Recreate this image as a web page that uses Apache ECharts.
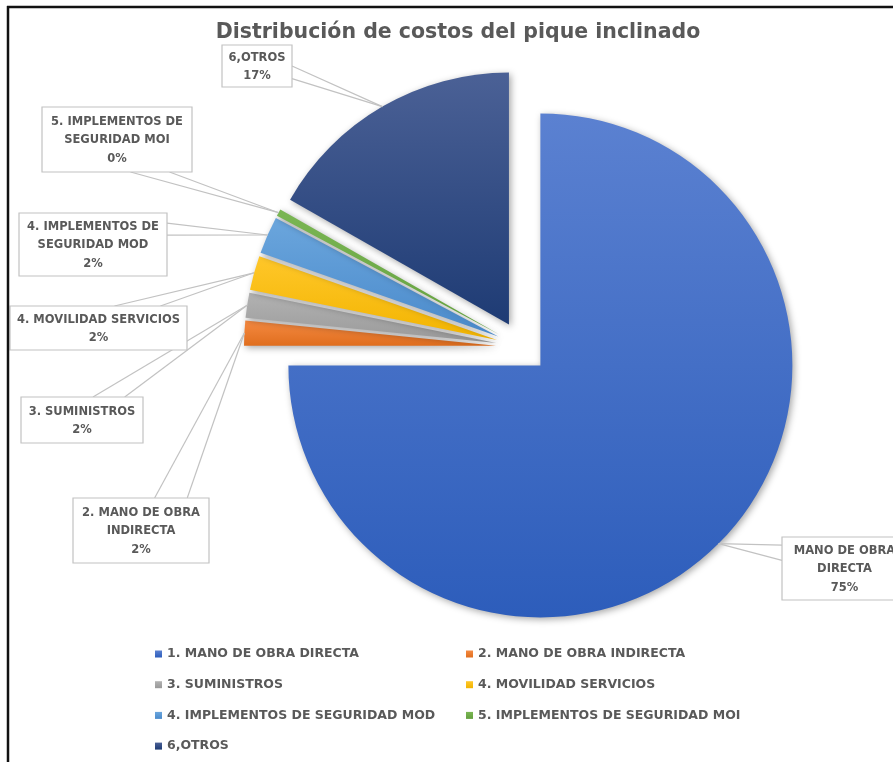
<!DOCTYPE html>
<html>
<head>
<meta charset="utf-8">
<style>
  html, body { margin: 0; padding: 0; background: #ffffff; }
  #chart { width: 893px; height: 762px; }
</style>
<script src="https://cdn.jsdelivr.net/npm/echarts@6/dist/echarts.min.js"></script>
</head>
<body>
<div id="chart"></div>
<script>
// Cost categories (legend names) and their share of total cost, in percent
const categories = [
  '1. MANO DE OBRA DIRECTA',
  '2. MANO DE OBRA INDIRECTA',
  '3. SUMINISTROS',
  '4. MOVILIDAD SERVICIOS',
  '4. IMPLEMENTOS DE SEGURIDAD MOD',
  '5. IMPLEMENTOS DE SEGURIDAD MOI',
  '6,OTROS'
];
const shares = [75.0, 1.6, 1.6, 2.2, 2.4, 0.45, 16.75];

// Category text shown inside the callout boxes
const calloutNames = [
  'MANO DE OBRA\nDIRECTA',
  '2. MANO DE OBRA\nINDIRECTA',
  '3. SUMINISTROS',
  '4. MOVILIDAD SERVICIOS',
  '4. IMPLEMENTOS DE\nSEGURIDAD MOD',
  '5. IMPLEMENTOS DE\nSEGURIDAD MOI',
  '6,OTROS'
];

// Callout boxes: [left, top, width, height], the side the leader attaches to,
// and where along that side the two leader strokes meet the box
const calloutBox = [
  [782, 537, 125, 63],
  [73, 498, 136, 65],
  [21, 397, 122, 46],
  [10, 306, 177, 44],
  [19, 213, 148, 63],
  [42, 107, 150, 65],
  [222, 45, 70, 42]
];
const calloutSide = ['left', 'top', 'top', 'top', 'right', 'bottom', 'right'];
const calloutAttach = [
  [0.13, 0.37],
  [0.60, 0.84],
  [0.59, 0.85],
  [0.59, 0.85],
  [0.16, 0.35],
  [0.59, 0.85],
  [0.50, 0.80]
];

// Slice colours: lighter top, darker bottom
const sliceColors = [
  ['#5b81d1', '#2d5dbb'],
  ['#f58a42', '#e06e1e'],
  ['#b2b2b2', '#999999'],
  ['#ffc72a', '#f2b400'],
  ['#6ba6dd', '#4a8acb'],
  ['#7ab653', '#64a03f'],
  ['#4b6196', '#1e3b74']
];

const EXPLODE = 26;
const TEXT_GRAY = '#595959';
const LINE_GRAY = '#c2c2c2';
const FONT = 'DejaVu Sans';

const grad = (c) => new echarts.graphic.LinearGradient(0, 0, 0, 1, [
  { offset: 0, color: c[0] },
  { offset: 1, color: c[1] }
]);

const pieData = categories.map((name, i) => ({
  name: name,
  value: shares[i],
  selected: true,
  itemStyle: { color: grad(sliceColors[i]) }
}));

const legendText = {
  color: TEXT_GRAY,
  fontFamily: FONT,
  fontWeight: 'bold',
  fontSize: 12.5,
  lineHeight: 14
};

const frame = [
  {
    type: 'line', id: 'frameTop', z: 20, silent: true,
    shape: { x1: 7, y1: 7, x2: 893, y2: 7 },
    style: { stroke: '#111', lineWidth: 2.5 }
  },
  {
    type: 'line', id: 'frameLeft', z: 20, silent: true,
    shape: { x1: 8, y1: 6, x2: 8, y2: 762 },
    style: { stroke: '#111', lineWidth: 2.5 }
  }
];

const chart = echarts.init(document.getElementById('chart'), null, { renderer: 'canvas' });

chart.setOption({
  backgroundColor: '#ffffff',
  animation: false,
  title: {
    text: 'Distribución de costos del pique inclinado',
    left: 453,
    top: 17,
    textAlign: 'center',
    textStyle: {
      color: TEXT_GRAY,
      fontFamily: FONT,
      fontWeight: 'bold',
      fontSize: 20.5
    }
  },
  legend: [
    {
      orient: 'vertical',
      left: 155,
      top: 647,
      padding: 0,
      itemGap: 16.7,
      itemWidth: 7,
      itemHeight: 7,
      icon: 'rect',
      selectedMode: false,
      data: [categories[0], categories[2], categories[4], categories[6]],
      textStyle: legendText
    },
    {
      orient: 'vertical',
      left: 466,
      top: 647,
      padding: 0,
      itemGap: 16.7,
      itemWidth: 7,
      itemHeight: 7,
      icon: 'rect',
      selectedMode: false,
      data: [categories[1], categories[3], categories[5]],
      textStyle: legendText
    }
  ],
  graphic: frame,
  series: [
    {
      type: 'pie',
      center: [522, 347],
      radius: 252,
      startAngle: 90,
      clockwise: true,
      selectedMode: 'multiple',
      selectedOffset: EXPLODE,
      percentPrecision: 0,
      emphasis: { disabled: true },
      label: { show: false },
      labelLine: { show: false },
      itemStyle: {
        borderWidth: 0,
        shadowBlur: 7,
        shadowColor: 'rgba(0,0,0,0.35)',
        shadowOffsetX: 2,
        shadowOffsetY: 2
      },
      data: pieData
    }
  ]
});

// Callouts: each leader starts on the outer arc of its (exploded) slice,
// taken from the pie layout computed by ECharts.
const seriesModel = chart.getModel().getSeriesByIndex(0);
const sliceData = seriesModel.getData();
const callouts = [];

function attachPoint(box, side, f) {
  const [x, y, w, h] = box;
  if (side === 'left') return [x, y + h * f];
  if (side === 'right') return [x + w, y + h * f];
  if (side === 'top') return [x + w * f, y];
  return [x + w * f, y + h];
}

categories.forEach((name, i) => {
  const lay = sliceData.getItemLayout(i);
  const mid = (lay.startAngle + lay.endAngle) / 2;
  const ax = lay.cx + (lay.r + EXPLODE) * Math.cos(mid);
  const ay = lay.cy + (lay.r + EXPLODE) * Math.sin(mid);
  const percent = seriesModel.getDataParams(i).percent;
  const box = calloutBox[i];

  calloutAttach[i].forEach((f, k) => {
    const p = attachPoint(box, calloutSide[i], f);
    callouts.push({
      type: 'line', id: 'lead' + i + '_' + k, z: 10, silent: true,
      shape: { x1: ax, y1: ay, x2: p[0], y2: p[1] },
      style: { stroke: LINE_GRAY, lineWidth: 1.2 }
    });
  });
  callouts.push({
    type: 'rect', id: 'box' + i, z: 11, silent: true,
    shape: { x: box[0], y: box[1], width: box[2], height: box[3] },
    style: { fill: '#ffffff', stroke: LINE_GRAY, lineWidth: 1.2 }
  });
  callouts.push({
    type: 'text', id: 'txt' + i, z: 12, silent: true,
    x: box[0] + box[2] / 2,
    y: box[1] + box[3] / 2 + 1,
    style: {
      text: calloutNames[i] + '\n' + percent + '%',
      align: 'center',
      verticalAlign: 'middle',
      fill: TEXT_GRAY,
      fontFamily: FONT,
      fontWeight: 'bold',
      fontSize: 11.5,
      lineHeight: 18.5
    }
  });
});

chart.setOption({ graphic: frame.concat(callouts) });
</script>
</body>
</html>
